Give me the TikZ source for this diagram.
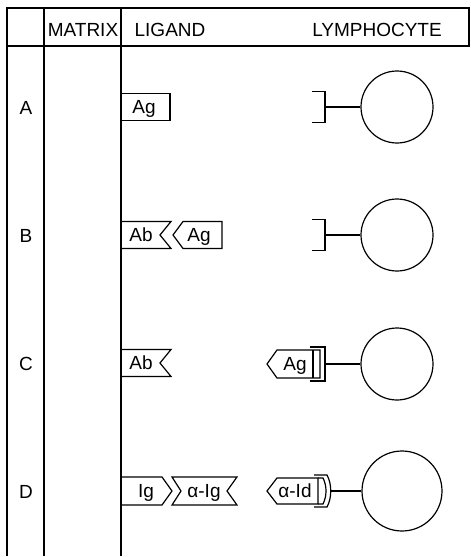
\documentclass[tikz,border=0pt]{standalone}
\usepackage{fontspec}
\setmainfont{Liberation Sans}
\begin{document}
\begin{tikzpicture}[x=1pt,y=-1pt,
  rule/.style={line width=1.3pt, line cap=rect},
  piece/.style={line width=1.2pt, line join=miter},
  lbl/.style={inner sep=0pt, anchor=base, font=\fontsize{19}{22}\selectfont},
  cell/.style={circle, draw, line width=1.2pt, inner sep=0pt},
  stem/.style={line width=1.2pt}]
\useasboundingbox (0,0) rectangle (471,557);

% table frame
\draw[rule] (7,8) -- (469,8) -- (469,46);
\draw[rule] (7,46) -- (469,46);
\draw[rule] (7,8) -- (7,555);
\draw[rule] (44,8) -- (44,555);
\draw[rule] (121,8) -- (121,555);

% column heads (baselines)
\node[lbl] (hmatrix) at (83,36) {MATRIX};
\node[lbl] (hligand) at (170,36) {LIGAND};
\node[lbl] (hlympho) at (377,36) {LYMPHOCYTE};

% row labels (baselines)
\node[lbl] (rA) at (26,114) {A};
\node[lbl] (rB) at (26,242) {B};
\node[lbl] (rC) at (26,370) {C};
\node[lbl] (rD) at (26,498) {D};

% ---- row A: antigen ligand, bare receptor
\draw[piece] (121,93.5) -- (170,93.5) -- (170,120.5) -- (121,120.5);
\node[lbl] (agA) at (144,113) {Ag};
\draw[piece] (312,91.5) -- (325,91.5) -- (325,122.5) -- (312,122.5);
\coordinate (brA) at (325,107);
\node[cell, minimum size=72pt] (cellA) at (397,107) {};
\draw[stem] (brA) -- (cellA);

% ---- row B: antibody ligand carrying antigen, bare receptor
\draw[piece] (121,221.5) -- (171,221.5) -- (160,235) -- (171,248.5) -- (121,248.5);
\node[lbl] (abB) at (141,241) {Ab};
\draw[piece] (173,235) -- (183,221.5) -- (222,221.5) -- (222,248.5) -- (183,248.5) -- cycle;
\node[lbl] (agB) at (199,241) {Ag};
\draw[piece] (312,219.5) -- (325,219.5) -- (325,250.5) -- (312,250.5);
\coordinate (brB) at (325,235);
\node[cell, minimum size=72pt] (cellB) at (397,235) {};
\draw[stem] (brB) -- (cellB);

% ---- row C: antibody ligand, antigen-bound receptor
\draw[piece] (121,349.5) -- (171,349.5) -- (160,363) -- (171,376.5) -- (121,376.5);
\node[lbl] (abC) at (141,369) {Ab};
\draw[piece] (267,364) -- (277,350) -- (320,350) -- (320,378) -- (277,378) -- cycle;
\draw[piece] (313,350) -- (313,378);
\draw[piece] (310,347) -- (325,347) -- (325,381) -- (310,381);
\node[lbl] (agC) at (295,370) {Ag};
\coordinate (brC) at (325,364);
\node[cell, minimum size=72pt] (cellC) at (397,364) {};
\draw[stem] (brC) -- (cellC);

% ---- row D: Ig ligand with anti-Ig, anti-idiotype receptor
\draw[piece] (121,477) -- (162,477) -- (172,491) -- (162,505) -- (121,505);
\node[lbl] (igD) at (146,497) {Ig};
\draw[piece] (172,477) -- (237,477) -- (227,491) -- (237,505) -- (172,505) -- (181,491) -- cycle;
\node[lbl] (aigD) at (204,497) {α-Ig};
\draw[piece] (267,491) -- (277,478) -- (318,478) -- (318,504) -- (277,504) -- cycle;
\node[lbl] (aidD) at (295,497) {α-Id};
\draw[piece] (314,475) -- (327,475) .. controls (332,484) and (332,498) .. (327,507) -- (314,507);
\draw[piece] (318,478) -- (323,478) .. controls (327,486) and (327,496) .. (323,504) -- (318,504);
\coordinate (brD) at (330,491);
\node[cell, minimum size=80pt] (cellD) at (402,491) {};
\draw[stem] (brD) -- (cellD);
\end{tikzpicture}
\end{document}
